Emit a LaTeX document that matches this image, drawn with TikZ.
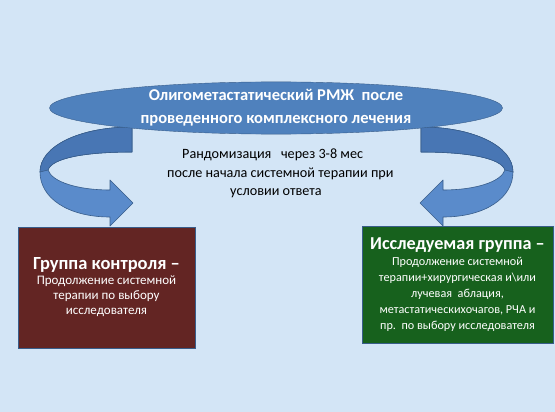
\documentclass[tikz,border=0pt]{standalone}
\usepackage{fontspec}
\setmainfont{Carlito}
\usetikzlibrary{positioning}
\usetikzlibrary{shapes.geometric}
\definecolor{bgblue}{HTML}{D3E5F6}
\definecolor{accblue}{HTML}{4F81BD}
\definecolor{edgeblue}{HTML}{385D8A}
\definecolor{foldblue}{HTML}{5A8BCB}
\definecolor{backblue}{HTML}{4876B4}
\definecolor{ctrlred}{HTML}{632523}
\definecolor{studygreen}{HTML}{17611D}

\begin{document}
\begin{tikzpicture}[x=1pt,y=-1pt,
		headline/.style={
			draw=edgeblue,
			fill=accblue,
			ellipse,
			minimum width=453pt,
			minimum height=46pt,
			inner sep=0pt,
			align=center,
			text=white,
			font=\bfseries\fontsize{16.5}{23}\selectfont,
		},
		groupbox/.style={
			draw=edgeblue,
			rectangle,
			inner sep=2pt,
			align=center,
			text=white,
		},
		note/.style={anchor=west, inner sep=0pt, font=\fontsize{14.2}{16}\selectfont},
		uturn/.style={draw=edgeblue, line width=0.6pt, line join=round}]
		\fill[bgblue] (0,0) rectangle (555,412);
		\useasboundingbox (0,0) rectangle (555,412);
		
		% bent arrows, right one is the mirror image
		\foreach \sx/\dx in {1/0,-1/553}{
			\begin{scope}[xshift=\dx pt, xscale=\sx]
				\filldraw[uturn, fill=foldblue] (132,127) -- (132,152)
					.. controls (85,152) and (52,158) .. (48,170)
					.. controls (52,182) and (78,190) .. (110,190)
					-- (110,180) -- (133,203) -- (110,226) -- (110,217)
					.. controls (68,217) and (40,198) .. (40,172)
					.. controls (40,146) and (80,127) .. (132,127) -- cycle;
				\filldraw[uturn, fill=backblue] (132,127) -- (132,152)
					.. controls (85,152) and (52,158) .. (48,170)
					-- (40,172)
					.. controls (40,146) and (80,127) .. (132,127) -- cycle;
			\end{scope}
		}
		
		\node[headline] (head) at (276,108) {Олигометастатический РМЖ\ \ после\\проведенного комплексного лечения};
		
		\node[note] (rand) at (182,155) {Рандомизация\ \ \ через 3-8 мес};
		\node[note] (start) at (167,174) {после начала системной терапии при};
		\node[note] (resp) at (230,193) {условии ответа};
		
		\node[groupbox, fill=ctrlred, minimum width=177pt, minimum height=121pt,
			font=\fontsize{13}{15}\selectfont] (ctrl) at (106.5,287.5)
			{{\bfseries\fontsize{18.5}{20}\selectfont Группа контроля –}\\Продолжение системной\\терапии по выбору\\исследователя};
		\node[groupbox, fill=studygreen, minimum width=191pt, minimum height=117pt,
			font=\fontsize{12.2}{16}\selectfont] (study) at (457.5,284.5)
			{{\bfseries\fontsize{18.2}{19}\selectfont Исследуемая группа –}\\Продолжение системной\\терапии+хирургическая и\textbackslash или\\лучевая\ \ аблация,\\метастатическихочагов, РЧА и\\пр.\ \ по выбору исследователя};
	\end{tikzpicture}
\end{document}
